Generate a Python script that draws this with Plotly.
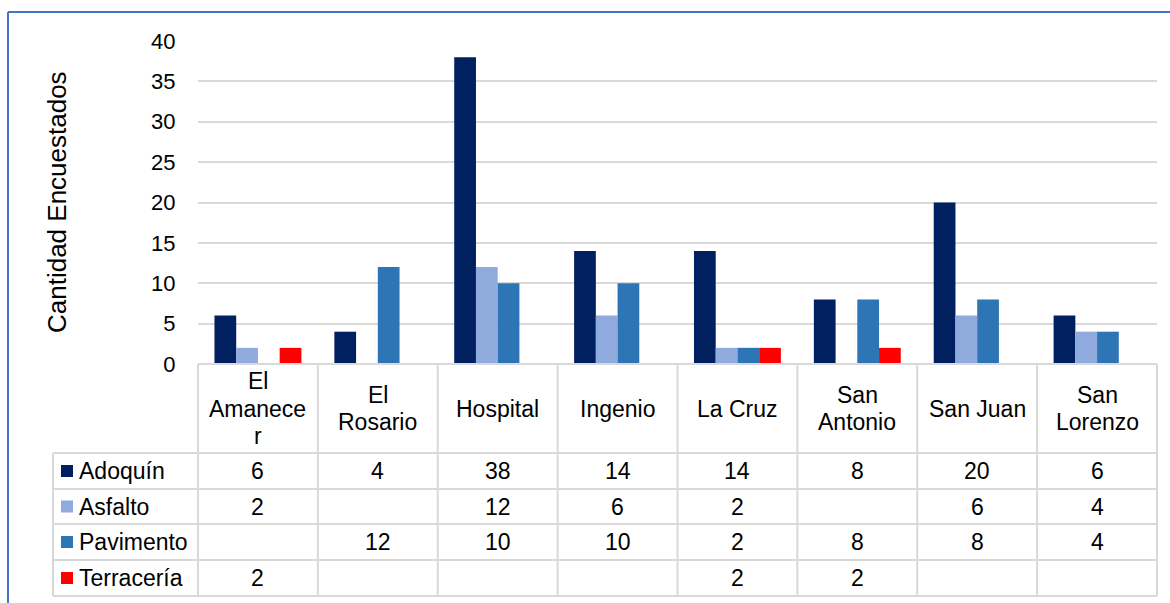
import plotly.graph_objects as go

# Survey counts by neighbourhood and street surface type
barrios = ["El Amanecer", "El Rosario", "Hospital", "Ingenio", "La Cruz",
           "San Antonio", "San Juan", "San Lorenzo"]
barrio_labels = ["El<br>Amanece<br>r", "El<br>Rosario", "Hospital", "Ingenio",
                 "La Cruz", "San<br>Antonio", "San Juan", "San<br>Lorenzo"]

adoquin = [6, 4, 38, 14, 14, 8, 20, 6]
asfalto = [2, None, 12, 6, 2, None, 6, 4]
pavimento = [None, 12, 10, 10, 2, 8, 8, 4]
terraceria = [2, None, None, None, 2, 2, None, None]

series_names = ["Adoquín", "Asfalto", "Pavimento", "Terracería"]
series_values = [adoquin, asfalto, pavimento, terraceria]
series_colors = ["#002060", "#8FAADC", "#2E75B6", "#FF0000"]

y_ticks = [0, 5, 10, 15, 20, 25, 30, 35, 40]

# ---- canvas geometry (pixels) ----
W, H = 1170, 603
PLOT_L, PLOT_R = 198, 1157
PLOT_T, PLOT_B = 41, 364          # y=40 and y=0
ROW_LINES = [453, 489, 524, 560, 596]
LABEL_L = 53
LINE_GAP = 27                     # spacing of wrapped header lines
GRID = "#D9D9D9"
FONT = "Liberation Sans, Arial, sans-serif"


def px(x):
    return x / W


def py(y):
    return 1 - y / H


fig = go.Figure()
for name, vals, col in zip(series_names, series_values, series_colors):
    fig.add_trace(go.Bar(x=barrios, y=vals, name=name, marker_color=col,
                         marker_line_width=0, showlegend=False))

fig.update_layout(
    width=W, height=H, autosize=False,
    margin=dict(l=0, r=0, t=0, b=0, pad=0, autoexpand=False),
    showlegend=False,
    paper_bgcolor="white", plot_bgcolor="white",
    barmode="group", bargap=0.275, bargroupgap=0,
    font=dict(family=FONT, color="black", size=23),
    xaxis=dict(domain=[px(PLOT_L), px(PLOT_R)], showticklabels=False,
               showgrid=False, zeroline=False, showline=False, automargin=False,
               categoryorder="array", categoryarray=barrios),
    yaxis=dict(domain=[py(PLOT_B), py(PLOT_T)], range=[0, 40], automargin=False,
               tickvals=y_ticks, showgrid=True, gridcolor=GRID, gridwidth=2,
               zeroline=False, showline=False, ticks="outside", ticklen=17,
               tickcolor="rgba(0,0,0,0)", tickfont=dict(size=22)),
)

shapes = []
line = dict(color=GRID, width=2)

# Outer chart border (blue)
shapes.append(dict(type="line", xref="paper", yref="paper",
                   x0=px(8), x1=px(8), y0=py(12), y1=0,
                   line=dict(color="#4472C4", width=2)))
shapes.append(dict(type="line", xref="paper", yref="paper",
                   x0=px(8), x1=1, y0=py(12), y1=py(12),
                   line=dict(color="#4472C4", width=2)))

# Data table grid
n = len(barrios)
col_w = (PLOT_R - PLOT_L) / n
col_edges = [PLOT_L + i * col_w for i in range(n + 1)]
shapes.append(dict(type="line", xref="paper", yref="paper",
                   x0=px(PLOT_L), x1=px(PLOT_R), y0=py(PLOT_B), y1=py(PLOT_B),
                   line=line))
for yl in ROW_LINES:
    shapes.append(dict(type="line", xref="paper", yref="paper",
                       x0=px(LABEL_L), x1=px(PLOT_R), y0=py(yl), y1=py(yl),
                       line=line))
for xe in col_edges:
    shapes.append(dict(type="line", xref="paper", yref="paper",
                       x0=px(xe), x1=px(xe), y0=py(PLOT_B), y1=py(ROW_LINES[-1]),
                       line=line))
shapes.append(dict(type="line", xref="paper", yref="paper",
                   x0=px(LABEL_L), x1=px(LABEL_L), y0=py(ROW_LINES[0]),
                   y1=py(ROW_LINES[-1]), line=line))

annotations = []
# Y axis title
annotations.append(dict(text="Cantidad Encuestados", xref="paper", yref="paper",
                        x=px(57), y=py(202), textangle=-90, showarrow=False,
                        font=dict(size=26), xanchor="center", yanchor="middle"))

# Category header cells (each wrapped line placed on its own)
header_mid = (PLOT_B + ROW_LINES[0]) / 2
for i, lab in enumerate(barrio_labels):
    parts = lab.split("<br>")
    first = header_mid - (len(parts) - 1) * LINE_GAP / 2
    for k, part in enumerate(parts):
        annotations.append(dict(text=part, xref="paper", yref="paper",
                                x=px(col_edges[i] + col_w / 2),
                                y=py(first + k * LINE_GAP),
                                showarrow=False, font=dict(size=23),
                                xanchor="center", yanchor="middle"))

# Series rows: legend key, name and values
for r, (name, vals, col) in enumerate(zip(series_names, series_values, series_colors)):
    top, bot = ROW_LINES[r], ROW_LINES[r + 1]
    mid = (top + bot) / 2
    shapes.append(dict(type="rect", xref="paper", yref="paper",
                       x0=px(61), x1=px(73), y0=py(mid - 6), y1=py(mid + 6),
                       fillcolor=col, line=dict(width=0)))
    annotations.append(dict(text=name, xref="paper", yref="paper",
                            x=px(77), y=py(mid), showarrow=False,
                            font=dict(size=23), xanchor="left", yanchor="middle"))
    for i, v in enumerate(vals):
        if v is None:
            continue
        annotations.append(dict(text=str(v), xref="paper", yref="paper",
                                x=px(col_edges[i] + col_w / 2), y=py(mid),
                                showarrow=False, font=dict(size=23),
                                xanchor="center", yanchor="middle"))

fig.update_layout(shapes=shapes, annotations=annotations)
fig.write_html(
    "out.html",
    config={"displayModeBar": False},
    post_script="document.body.style.margin='0';",
)
